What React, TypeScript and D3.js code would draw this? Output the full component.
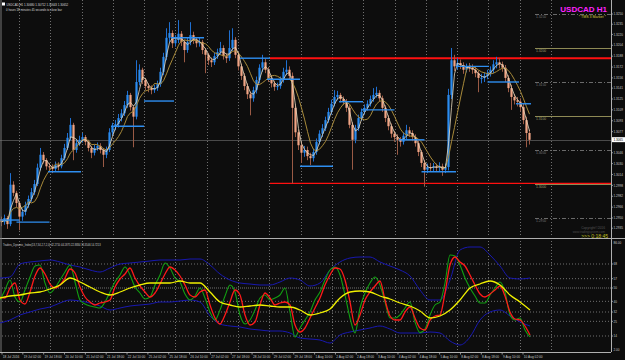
import React from "react";
import * as d3 from "d3";

// ---------- price data (bars) ----------
const firstOpen = 1.2948;
const closes = [
  1.2944,1.2950,1.2941,1.2999,1.2987,1.2972,1.2952,1.2959,1.2969,1.2978,
  1.2988,1.3000,1.3024,1.3043,1.3035,1.3026,1.3025,1.3022,1.3028,1.3026,
  1.3038,1.3053,1.3068,1.3087,1.3050,1.3060,1.3065,1.3069,1.3062,1.3053,
  1.3046,1.3053,1.3056,1.3050,1.3043,1.3050,1.3076,1.3084,1.3088,1.3097,
  1.3104,1.3116,1.3131,1.3113,1.3099,1.3150,1.3168,1.3153,1.3144,1.3141,
  1.3138,1.3141,1.3147,1.3165,1.3187,1.3215,1.3222,1.3207,1.3212,1.3221,
  1.3209,1.3197,1.3209,1.3219,1.3212,1.3207,1.3209,1.3197,1.3190,1.3182,
  1.3179,1.3188,1.3194,1.3200,1.3188,1.3185,1.3200,1.3212,1.3190,1.3173,
  1.3159,1.3144,1.3132,1.3126,1.3138,1.3153,1.3171,1.3179,1.3168,1.3156,
  1.3148,1.3143,1.3144,1.3153,1.3165,1.3168,1.3159,1.3112,1.3076,1.3057,
  1.3046,1.3050,1.3041,1.3038,1.3047,1.3062,1.3074,1.3082,1.3094,1.3106,
  1.3118,1.3128,1.3131,1.3125,1.3122,1.3112,1.3087,1.3065,1.3082,1.3097,
  1.3106,1.3112,1.3118,1.3125,1.3131,1.3134,1.3126,1.3112,1.3097,1.3085,
  1.3074,1.3069,1.3065,1.3062,1.3071,1.3079,1.3075,1.3069,1.3060,1.3047,
  1.3031,1.3021,1.3025,1.3024,1.3026,1.3024,1.3026,1.3021,1.3025,1.3131,
  1.3182,1.3173,1.3178,1.3175,1.3168,1.3172,1.3171,1.3168,1.3163,1.3156,
  1.3156,1.3159,1.3163,1.3168,1.3176,1.3179,1.3176,1.3171,1.3156,1.3141,
  1.3128,1.3123,1.3121,1.3113,1.3094,1.3075,1.3065,
];
const highs = [
  1.2952,1.2955,1.2953,1.3016,1.3004,1.2990,1.2975,1.2964,1.2974,1.2983,
  1.2994,1.3006,1.3030,1.3053,1.3047,1.3038,1.3031,1.3029,1.3033,1.3032,
  1.3043,1.3059,1.3075,1.3097,1.3090,1.3066,1.3071,1.3075,1.3072,1.3065,
  1.3056,1.3058,1.3061,1.3060,1.3053,1.3055,1.3082,1.3090,1.3094,1.3103,
  1.3110,1.3122,1.3137,1.3134,1.3116,1.3182,1.3176,1.3171,1.3156,1.3148,
  1.3145,1.3146,1.3152,1.3171,1.3193,1.3229,1.3238,1.3226,1.3219,1.3241,
  1.3225,1.3212,1.3215,1.3238,1.3224,1.3216,1.3215,1.3212,1.3200,1.3193,
  1.3186,1.3193,1.3199,1.3209,1.3204,1.3192,1.3226,1.3229,1.3216,1.3194,
  1.3177,1.3163,1.3148,1.3136,1.3143,1.3158,1.3176,1.3190,1.3184,1.3172,
  1.3160,1.3152,1.3149,1.3158,1.3171,1.3182,1.3173,1.3164,1.3117,1.3080,
  1.3062,1.3056,1.3055,1.3046,1.3052,1.3067,1.3079,1.3088,1.3099,1.3112,
  1.3124,1.3138,1.3137,1.3134,1.3129,1.3125,1.3116,1.3091,1.3087,1.3102,
  1.3111,1.3117,1.3123,1.3130,1.3141,1.3143,1.3138,1.3130,1.3116,1.3101,
  1.3089,1.3078,1.3073,1.3069,1.3076,1.3087,1.3084,1.3079,1.3073,1.3064,
  1.3050,1.3035,1.3030,1.3031,1.3031,1.3030,1.3032,1.3030,1.3030,1.3140,
  1.3200,1.3190,1.3185,1.3183,1.3179,1.3177,1.3178,1.3176,1.3172,1.3167,
  1.3162,1.3164,1.3168,1.3173,1.3182,1.3187,1.3185,1.3180,1.3175,1.3160,
  1.3146,1.3132,1.3128,1.3126,1.3118,1.3099,1.3080,
];
const lows = [
  1.2938,1.2940,1.2934,1.2938,1.2982,1.2966,1.2932,1.2946,1.2954,1.2965,
  1.2974,1.2984,1.2997,1.3020,1.3030,1.3021,1.3019,1.3016,1.3019,1.3020,
  1.3023,1.3035,1.3050,1.3064,1.3035,1.3046,1.3056,1.3061,1.3057,1.3048,
  1.3038,1.3042,1.3049,1.3045,1.3025,1.3038,1.3047,1.3071,1.3079,1.3083,
  1.3092,1.3100,1.3112,1.3108,1.3054,1.3095,1.3145,1.3147,1.3138,1.3135,
  1.3132,1.3134,1.3137,1.3143,1.3160,1.3182,1.3208,1.3200,1.3202,1.3207,
  1.3203,1.3179,1.3193,1.3204,1.3206,1.3201,1.3202,1.3191,1.3163,1.3175,
  1.3172,1.3175,1.3184,1.3190,1.3183,1.3178,1.3181,1.3196,1.3185,1.3167,
  1.3153,1.3138,1.3125,1.3101,1.3121,1.3133,1.3148,1.3165,1.3163,1.3150,
  1.3142,1.3137,1.3138,1.3140,1.3149,1.3160,1.3153,1.3001,1.3069,1.3050,
  1.3031,1.3040,1.3035,1.3028,1.3033,1.3043,1.3058,1.3069,1.3078,1.3090,
  1.3102,1.3114,1.3123,1.3120,1.3116,1.3106,1.3082,1.3021,1.3060,1.3078,
  1.3093,1.3102,1.3108,1.3114,1.3121,1.3127,1.3121,1.3106,1.3091,1.3079,
  1.3068,1.3062,1.3043,1.3055,1.3058,1.3066,1.3069,1.3063,1.3055,1.3041,
  1.3025,1.2996,1.3016,1.3018,1.3019,1.3018,1.3019,1.3012,1.3016,1.3020,
  1.3125,1.3166,1.3168,1.3169,1.3162,1.3164,1.3165,1.3162,1.3157,1.3135,
  1.3148,1.3150,1.3154,1.3158,1.3163,1.3170,1.3170,1.3165,1.3150,1.3135,
  1.3109,1.3117,1.3114,1.3107,1.3088,1.3054,1.3058,
];

// blue support/resistance segments (bar index from/to, price)
const pivotFrom = [0, 5.5, 16, 37, 48, 57, 80, 89, 100, 113, 120.5, 133, 140.5, 152, 162.5, 172];
const pivotTo = [5.5, 15.5, 26, 47, 57, 67, 89, 99, 110, 120, 130.5, 140.5, 151, 162, 172, 176];
const pivotPrice = [1.2947, 1.2944, 1.3018, 1.3085, 1.3122, 1.3215, 1.3185, 1.3154, 1.3026, 1.3121, 1.3109, 1.3065, 1.3018, 1.3173, 1.315, 1.3118];

// red range lines
const rangeLevels = [1.3185, 1.3001];
const rangeStartBar = 89.5;

// round-number levels
const roundLevels = [1.325, 1.32, 1.315, 1.31, 1.305, 1.3, 1.295];
const roundLabels = ["1.3250", "1.3200", "1.3150", "1.3100", "1.3050", "1.3000", "1.2950"];

const bidPrice = 1.30652;

// right price-axis labels
const priceTicks = [
  1.3250, 1.3235, 1.3220, 1.3204, 1.3188, 1.3172, 1.3156, 1.3141, 1.3125, 1.3109,
  1.3093, 1.3077, 1.3046, 1.3030, 1.3014, 1.2998, 1.2982, 1.2966, 1.2950, 1.2935,
];

// bottom time labels
const timeLabels = [
  "18 Jul 2016", "19 Jul 02:00", "19 Jul 18:00", "20 Jul 10:00", "21 Jul 02:00",
  "21 Jul 18:00", "22 Jul 10:00", "25 Jul 02:00", "25 Jul 18:00", "26 Jul 10:00",
  "27 Jul 02:00", "27 Jul 18:00", "28 Jul 10:00", "29 Jul 02:00", "29 Jul 18:00",
  "1 Aug 10:00", "2 Aug 02:00", "2 Aug 18:00", "3 Aug 10:00", "4 Aug 02:00",
  "4 Aug 18:00", "5 Aug 10:00", "8 Aug 02:00", "8 Aug 18:00", "9 Aug 10:00",
  "10 Aug 02:00",
];

// ---------- Traders Dynamic Index ----------
const tdiGreen = [
  41, 48.5, 56, 43.25, 39.5, 48.5, 58.25, 66.5, 67.25, 53.75,
  46.25, 50, 56, 62, 67.25, 54.5, 41, 38, 36.5, 35.75,
  35, 39.5, 47, 54.5, 59.75, 65.75, 59.75, 50.75, 46.25, 41.75,
  43.25, 52.25, 59.75, 68.75, 65, 57.5, 54.5, 45.5, 41, 44,
  50, 42.5, 32, 26, 33.5, 44, 52.25, 47, 29.75, 23,
  26, 33.5, 42.5, 44.75, 41, 42.5, 44.75, 50, 32, 13.25,
  20, 26, 32, 41, 47, 56, 63.5, 65.75, 59.75, 44.75,
  27.5, 16.25, 35, 46.25, 53.75, 58.25, 52.25, 39.5, 27.5, 27.5,
  29.75, 35, 39.5, 24.5, 16.5, 19.25, 29.75, 37.25, 39.5, 53.75,
  74.75, 74, 67.25, 57.5, 50, 44, 38.75, 38.75, 44.75, 50,
  54.5, 47, 29.75, 26, 27.5, 18.5, 13.25,
];
const tdiRed = [
  43.25, 42.5, 50, 53.75, 41, 38, 47, 59, 65, 60.5,
  53, 50, 52.25, 57.5, 64.25, 61.25, 50.75, 43.25, 39.5, 37.25,
  38.75, 39.5, 41, 50.75, 56.75, 60.5, 65, 57.5, 51.5, 47,
  43.25, 46.25, 53, 60.5, 65.75, 63.5, 59, 52.25, 44.75, 43.25,
  47, 48.5, 37.25, 27.5, 23, 29.75, 39.5, 48.5, 44.75, 29.75,
  22.25, 24.5, 37.25, 46.25, 42.5, 37.25, 38.75, 39.5, 37.25, 22.25,
  17, 20, 27.5, 35, 42.5, 52.25, 59.75, 65, 64.25, 56,
  39.5, 22.25, 29.75, 41, 47, 51.5, 55.25, 41, 29, 26,
  26, 32, 35.75, 27.5, 20, 18.5, 26, 29, 29.75, 46.25,
  67.25, 73.25, 69.5, 66.5, 59.75, 52.25, 45.5, 43.25, 45.5, 48.5,
  51.5, 44, 32, 26.75, 26, 21.5, 14.75,
];
const tdiYellow = [
  42.5, 44, 44.75, 46.25, 47, 49.25, 52.25, 57.5, 54.5, 50.75,
  47, 44.75, 47, 50, 52.25, 53.75, 53.75, 53.75, 55.25, 53.75,
  53.75, 47, 39.5, 37.25, 35.75, 36.5, 37.25, 36.5, 35.75, 35.75,
  33.5, 29.75, 31.25, 34.25, 42.5, 47, 47.75, 47, 44, 41.75,
  38.75, 36.5, 32.75, 27.5, 29, 33.5, 41, 50, 53, 55.25,
  52.25, 44.75, 39.5, 33.5,
];
const tdiUpper = [
  57.5, 58.25, 68, 69.5, 70.25, 71, 69.5, 67.25, 65.75, 63.5,
  62, 65, 68, 68.75, 69.5, 70.25, 71, 71, 71, 71.75,
  71.75, 67.25, 60.5, 56, 53.75, 53, 52.25, 52.25, 54.5, 57.5,
  56, 51.5, 53.75, 63.5, 69.5, 72.5, 73.25, 73.25, 69.5, 66.5,
  63.5, 59, 48.5, 41, 41, 56, 78.5, 80.75, 80.75, 74.75,
  66.5, 57.5, 56.75, 57.5,
];
const tdiLower = [
  23.75, 26, 29.75, 32, 34.25, 35.75, 38.75, 41, 40.25, 38.75,
  36.5, 33.5, 35, 36.5, 37.25, 38, 39.5, 39.5, 40.25, 41,
  39.5, 29, 23, 21.5, 20.75, 19.25, 18.5, 17.75, 17.75, 16.25,
  12.5, 11.75, 11, 8.75, 14.75, 17, 18.5, 20, 21.5, 19.25,
  16.25, 16.25, 16.25, 17, 16.25, 10.25, 7.25, 13.25, 26, 32,
  33.5, 29, 24.5, 21.5,
];
const tdiLevels = [68, 57, 50, 40, 32, 25, 14];
const tdiLevelLabels = ["68", "57", "50", "40", "32", "25", "14"];

const W = 625;
const H = 360;
const AXIS_X = 611;
const FONT = "'Liberation Sans', Arial, sans-serif";

export default function App() {
  const n = closes.length;
  const opens = closes.map((c, i) => (i === 0 ? firstOpen : closes[i - 1]));

  const xBar = d3.scaleLinear().domain([0, n - 1]).range([1.5, 529.5]);
  const yP = d3.scaleLinear().domain([1.292353, 1.327059]).range([236, 0]);
  const xFine = d3.scaleLinear().domain([0, tdiGreen.length - 1]).range([0, 530]);
  const xCoarse = d3.scaleLinear().domain([0, tdiYellow.length - 1]).range([0, 530]);
  const yT = d3.scaleLinear().domain([2, 86]).range([352, 240]);
  const xLab = d3.scaleLinear().domain([0, timeLabels.length - 1]).range([2, 523]);
  const gridScale = d3.scaleLinear().domain([0, 17]).range([19, 551]);
  const gridX = d3.range(18).map((k) => Math.round(gridScale(k)) + 0.5);

  // moving averages of closes
  const ma = (p: number) =>
    closes.map((_, i) => d3.mean(closes.slice(Math.max(0, i - p + 1), i + 1)) as number);
  const maFast = ma(3);
  const maSlow = ma(7);

  const priceLine = d3
    .line<number>()
    .x((_, i) => xBar(i))
    .y((d) => yP(d));
  const fineLine = d3
    .line<number>()
    .x((_, i) => xFine(i))
    .y((d) => yT(d))
    .curve(d3.curveMonotoneX);
  const coarseLine = d3
    .line<number>()
    .x((_, i) => xCoarse(i))
    .y((d) => yT(d))
    .curve(d3.curveMonotoneX);

  const bw = 2.2;
  const axisFont = 3.1;

  return (
    <div style={{ position: "absolute", left: 0, top: 0, width: W, height: H, background: "#0d0d0d" }}>
      <svg width={W} height={H} style={{ display: "block", fontFamily: FONT }}>
        <defs>
          <clipPath id="mainClip">
            <rect x={0} y={0} width={AXIS_X} height={237} />
          </clipPath>
          <clipPath id="subClip">
            <rect x={0} y={240} width={AXIS_X} height={112} />
          </clipPath>
        </defs>
        <rect x={0} y={0} width={W} height={H} fill="#0d0d0d" />

        {/* vertical grid */}
        {gridX.map((gx, k) => (
          <g key={"g" + k}>
            <line x1={gx} x2={gx} y1={0} y2={237} stroke="#8a8a8a" strokeWidth={0.8} strokeDasharray="1,2" />
            <line x1={gx} x2={gx} y1={241} y2={352} stroke="#8a8a8a" strokeWidth={0.8} strokeDasharray="1,2" />
          </g>
        ))}

        {/* main window */}
        <g clipPath="url(#mainClip)">
          {/* round number levels */}
          {roundLevels.map((lv, k) => {
            const y = Math.round(yP(lv)) + 0.5;
            const big = k % 2 === 1;
            return (
              <g key={"r" + k}>
                <line
                  x1={535}
                  x2={AXIS_X}
                  y1={y}
                  y2={y}
                  stroke={big ? "#8e8a55" : "#6a6a6a"}
                  strokeWidth={1}
                  strokeDasharray={big ? undefined : "4,2,1,2"}
                />
                <text x={536} y={y + 3.2} fontSize={3.3} fill={big ? "#a0a070" : "#777"}>
                  {roundLabels[k]}
                </text>
              </g>
            );
          })}

          {/* bid line */}
          <line x1={0} x2={AXIS_X} y1={Math.round(yP(bidPrice)) + 0.5} y2={Math.round(yP(bidPrice)) + 0.5} stroke="#4a4a4a" strokeWidth={1} />

          {/* red range lines */}
          {rangeLevels.map((lv, k) => (
            <line key={"rl" + k} x1={xBar(rangeStartBar)} x2={AXIS_X} y1={yP(lv)} y2={yP(lv)} stroke="#ff1010" strokeWidth={k === 0 ? 2 : 1.2} />
          ))}

          {/* candles */}
          {closes.map((c, i) => {
            const o = opens[i];
            const up = c >= o;
            const x = xBar(i);
            const yTop = yP(Math.max(o, c));
            const yBot = yP(Math.min(o, c));
            return (
              <g key={"c" + i}>
                <line x1={x} x2={x} y1={yP(highs[i])} y2={yP(lows[i])} stroke={up ? "#1f6fd0" : "#9a5a45"} strokeWidth={1} />
                <rect x={x - bw / 2} y={yTop} width={bw} height={Math.max(1, yBot - yTop)} fill={up ? "#2a8cf0" : "#f0a585"} />
              </g>
            );
          })}

          {/* moving averages */}
          <path d={priceLine(maSlow) || ""} fill="none" stroke="#a88a3a" strokeWidth={1} />
          <path d={priceLine(maFast) || ""} fill="none" stroke="#eadcc0" strokeWidth={0.8} />

          {/* pivot segments */}
          {pivotPrice.map((p, k) => (
            <line key={"p" + k} x1={xBar(pivotFrom[k]) - 1.5} x2={xBar(pivotTo[k]) + 1.5} y1={yP(p)} y2={yP(p)} stroke="#2e8ef0" strokeWidth={1.4} />
          ))}
        </g>

        {/* header texts */}
        <rect x={2} y={2.5} width={3} height={3} fill="#fff" />
        <text x={6.5} y={5.5} fontSize={2.9} fill="#d8d8d8">
          USDCAD,H1  1.30680 1.30712 1.30643 1.30652
        </text>
        <text x={6} y={10.5} fontSize={2.9} fill="#d8d8d8">
          0 hours 18 minutes 45 seconds to close bar
        </text>
        <text x={607} y={12} fontSize={8} fontWeight="bold" fill="#ff22ff" textAnchor="end">
          USDCAD H1
        </text>
        <text x={606} y={17.5} fontSize={3.6} fill="#d8d040" textAnchor="end">
          * TMS 3 Market *
        </text>
        <text x={605} y={229} fontSize={3.3} fill="#555" textAnchor="end">
          Copyright©2016
        </text>
        <text x={605} y={233} fontSize={3} fill="#4a4a4a" textAnchor="end">
          www.tradingsystem.com
        </text>
        <text x={608} y={238} fontSize={5} fill="#c0c020" textAnchor="end">
          {">>> 0:18:45"}
        </text>

        {/* window separators and frame */}
        <line x1={0} x2={W} y1={238.5} y2={238.5} stroke="#b0b0b0" strokeWidth={1.2} />
        <line x1={1} x2={1} y1={0} y2={352} stroke="#777" strokeWidth={1} />
        <line x1={AXIS_X + 0.5} x2={AXIS_X + 0.5} y1={0} y2={352} stroke="#b0b0b0" strokeWidth={1} />
        <line x1={0} x2={AXIS_X} y1={352.5} y2={352.5} stroke="#b0b0b0" strokeWidth={1} />

        {/* price axis labels */}
        {priceTicks.map((p, k) => (
          <g key={"pt" + k}>
            <line x1={AXIS_X} x2={AXIS_X + 2} y1={yP(p)} y2={yP(p)} stroke="#b0b0b0" strokeWidth={0.8} />
            <text x={AXIS_X + 2.5} y={yP(p) + 1.2} fontSize={axisFont} fill="#c8c8c8">
              {p.toFixed(4)}
            </text>
          </g>
        ))}
        <rect x={AXIS_X + 1} y={yP(bidPrice) - 2.5} width={W - AXIS_X - 1} height={5} fill="#ffffff" />
        <text x={AXIS_X + 2.5} y={yP(bidPrice) + 1.2} fontSize={axisFont} fill="#000">
          {bidPrice.toFixed(4)}
        </text>

        {/* sub window */}
        <text x={3} y={246} fontSize={2.6} fill="#cfcfcf">
          Traders_Dynamic_Index(13,7,34,2,7,2,0) 42.2710 44.1875 22.8834 33.3546 14.7213
        </text>
        {tdiLevels.map((lv, k) => (
          <g key={"tl" + k}>
            <line x1={2} x2={AXIS_X} y1={yT(lv)} y2={yT(lv)} stroke="#8a8a8a" strokeWidth={0.8} strokeDasharray={lv === 50 ? "1,1" : "1,2"} />
            <line x1={AXIS_X} x2={AXIS_X + 2} y1={yT(lv)} y2={yT(lv)} stroke="#b0b0b0" strokeWidth={0.8} />
            <text x={AXIS_X + 2.5} y={yT(lv) + 1.2} fontSize={axisFont} fill="#c8c8c8">
              {tdiLevelLabels[k]}
            </text>
          </g>
        ))}
        <text x={AXIS_X + 2.5} y={243.5} fontSize={axisFont} fill="#c8c8c8">
          86.00
        </text>
        <text x={AXIS_X + 2.5} y={350.5} fontSize={axisFont} fill="#c8c8c8">
          2.00
        </text>
        <g clipPath="url(#subClip)">
          <path d={coarseLine(tdiUpper) || ""} fill="none" stroke="#1818b0" strokeWidth={1} />
          <path d={coarseLine(tdiLower) || ""} fill="none" stroke="#1818b0" strokeWidth={1} />
          <path d={fineLine(tdiGreen) || ""} fill="none" stroke="#12a012" strokeWidth={1.1} />
          <path d={fineLine(tdiRed) || ""} fill="none" stroke="#ff1a1a" strokeWidth={1.3} />
          <path d={coarseLine(tdiYellow) || ""} fill="none" stroke="#f0f000" strokeWidth={1.3} />
        </g>

        {/* time axis */}
        {timeLabels.map((t, k) => (
          <g key={"t" + k}>
            <line x1={xLab(k)} x2={xLab(k)} y1={352} y2={354.5} stroke="#b0b0b0" strokeWidth={0.8} />
            <text x={xLab(k) + 0.8} y={357.5} fontSize={3.2} fill="#c8c8c8">
              {t}
            </text>
          </g>
        ))}
      </svg>
    </div>
  );
}
